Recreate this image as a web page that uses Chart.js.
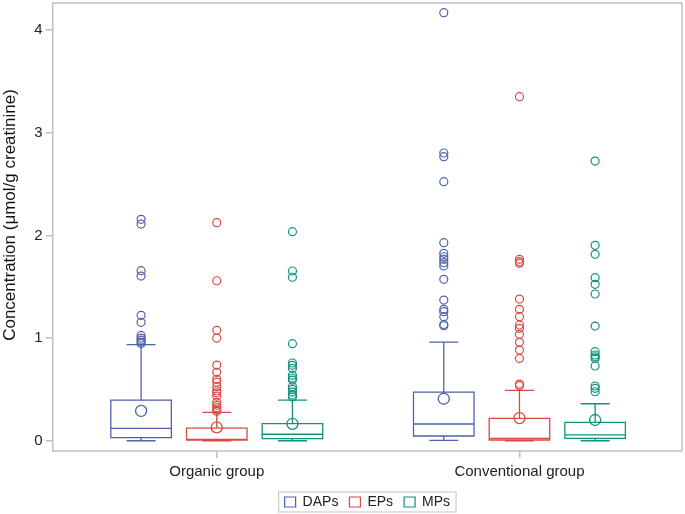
<!DOCTYPE html>
<html>
<head>
<meta charset="utf-8">
<script src="https://cdn.jsdelivr.net/npm/chart.js@4/dist/chart.umd.min.js"></script>
<style>
html,body{margin:0;padding:0;background:#fff;}
#wrap{width:685px;height:514px;}
</style>
</head>
<body>
<div id="wrap"><canvas id="c" width="685" height="514"></canvas></div>
<script>
// ---- data ----
const groups = ["Organic group", "Conventional group"];
const seriesNames = ["DAPs", "EPs", "MPs"];
const yTicks = [0, 1, 2, 3, 4];
const yTitle = "Concentration (μmol/g creatinine)";

// box statistics, indexed [series][group]
const whiskerLow  = [[0.0, 0.004], [0.0, 0.0], [0.0, 0.0]];
const q1          = [[0.03, 0.046], [0.005, 0.007], [0.02, 0.023]];
const median      = [[0.12, 0.163], [0.012, 0.023], [0.063, 0.058]];
const q3          = [[0.396, 0.474], [0.122, 0.218], [0.166, 0.179]];
const whiskerHigh = [[0.935, 0.961], [0.276, 0.491], [0.396, 0.36]];
const mean        = [[0.29, 0.409], [0.13, 0.221], [0.165, 0.202]];

// outliers
const dapsOutOrganic = [2.156, 2.11, 1.656, 1.604, 1.221, 1.153, 1.026, 1.0, 0.98, 0.961, 0.948];
const dapsOutConv    = [4.169, 2.802, 2.766, 2.523, 1.929, 1.825, 1.792, 1.767, 1.734, 1.702, 1.572, 1.37, 1.28, 1.257, 1.208, 1.133, 1.12];
const epsOutOrganic  = [2.124, 1.558, 1.075, 1.0, 0.737, 0.666, 0.598, 0.57, 0.526, 0.487, 0.467, 0.435, 0.374, 0.345, 0.322, 0.299, 0.286];
const epsOutConv     = [3.351, 1.767, 1.744, 1.728, 1.38, 1.28, 1.208, 1.127, 1.095, 1.036, 0.958, 0.883, 0.802, 0.552, 0.536];
const mpsOutOrganic  = [2.036, 1.653, 1.592, 0.945, 0.757, 0.734, 0.705, 0.637, 0.611, 0.591, 0.526, 0.5, 0.474, 0.445, 0.426];
const mpsOutConv     = [2.724, 1.903, 1.815, 1.588, 1.523, 1.429, 1.117, 0.867, 0.835, 0.818, 0.802, 0.728, 0.533, 0.51, 0.477];

const outliers = [[dapsOutOrganic, dapsOutConv], [epsOutOrganic, epsOutConv], [mpsOutOrganic, mpsOutConv]];

// ---- styling ----
const colors = ["#4f62ae", "#d64c42", "#14907f"];
const offsets = [-0.25, 0, 0.25];
const boxHalf = 0.1;
const capHalf = 0.048;
const frameColor = "#bcc0c3";
const FONT = "'Liberation Sans', Arial, sans-serif";

const datasets = [];
seriesNames.forEach((name, si) => {
  const pts = [];
  groups.forEach((g, gi) => {
    outliers[si][gi].forEach(v => pts.push({x: gi + 1 + offsets[si], y: v}));
  });
  datasets.push({
    label: name, data: pts, borderColor: colors[si], backgroundColor: 'rgba(0,0,0,0)',
    borderWidth: 1.2, pointRadius: 4, pointHoverRadius: 4, showLine: false
  });
});
seriesNames.forEach((name, si) => {
  datasets.push({
    label: name + ' mean', data: groups.map((g, gi) => ({x: gi + 1 + offsets[si], y: mean[si][gi]})),
    borderColor: colors[si], backgroundColor: 'rgba(0,0,0,0)', borderWidth: 1.3,
    pointRadius: 5.5, pointHoverRadius: 5.5, showLine: false
  });
});

const boxPlugin = {
  id: 'boxes',
  beforeDatasetsDraw(chart) {
    const {ctx, scales: {x, y}} = chart;
    ctx.save();
    ctx.lineWidth = 1.3;
    seriesNames.forEach((s, si) => {
      groups.forEach((g, gi) => {
        const c = gi + 1 + offsets[si];
        const xl = x.getPixelForValue(c - boxHalf), xr = x.getPixelForValue(c + boxHalf);
        const xc = x.getPixelForValue(c);
        const cl = x.getPixelForValue(c - capHalf), cr = x.getPixelForValue(c + capHalf);
        const yLo = y.getPixelForValue(whiskerLow[si][gi]);
        const yQ1 = y.getPixelForValue(q1[si][gi]);
        const yMed = y.getPixelForValue(median[si][gi]);
        const yQ3 = y.getPixelForValue(q3[si][gi]);
        const yHi = y.getPixelForValue(whiskerHigh[si][gi]);
        ctx.strokeStyle = colors[si];
        ctx.beginPath();
        ctx.rect(xl, yQ3, xr - xl, yQ1 - yQ3);
        ctx.moveTo(xl, yMed); ctx.lineTo(xr, yMed);
        ctx.moveTo(xc, yQ3); ctx.lineTo(xc, yHi);
        ctx.moveTo(cl, yHi); ctx.lineTo(cr, yHi);
        ctx.moveTo(xc, yQ1); ctx.lineTo(xc, yLo);
        ctx.moveTo(cl, yLo); ctx.lineTo(cr, yLo);
        ctx.stroke();
      });
    });
    // frame
    const a = chart.chartArea;
    ctx.strokeStyle = frameColor;
    ctx.lineWidth = 1.5;
    ctx.strokeRect(a.left, a.top, a.right - a.left, a.bottom - a.top);
    ctx.restore();
  },
  afterDraw(chart) {
    const ctx = chart.ctx;
    const a = chart.chartArea;
    // y-axis title
    ctx.save();
    ctx.translate(10, (a.top + a.bottom) / 2 - 12);
    ctx.rotate(-Math.PI / 2);
    ctx.fillStyle = '#111';
    ctx.font = "17px " + FONT;
    ctx.textAlign = 'center';
    ctx.textBaseline = 'middle';
    ctx.fillText(yTitle, 0, 0);
    ctx.restore();
    // legend frame
    const lg = chart.legend;
    if (!lg || !lg.legendHitBoxes || !lg.legendHitBoxes.length) return;
    const hb = lg.legendHitBoxes;
    const left = Math.min(...hb.map(h => h.left)) - 6;
    const right = Math.max(...hb.map(h => h.left + h.width)) + 6;
    const top = Math.min(...hb.map(h => h.top)) - 3;
    const bottom = Math.max(...hb.map(h => h.top + h.height)) + 3;
    ctx.save();
    ctx.strokeStyle = "#c8cbce";
    ctx.lineWidth = 1.2;
    ctx.strokeRect(left, top, right - left, bottom - top);
    ctx.restore();
  }
};

new Chart(document.getElementById('c'), {
  type: 'scatter',
  data: {datasets},
  plugins: [boxPlugin],
  options: {
    responsive: false,
    animation: false,
    layout: {autoPadding: false, padding: {top: 3, right: 3, left: 0, bottom: 0}},
    plugins: {
      tooltip: {enabled: false},
      legend: {
        position: 'bottom',
        fullSize: false,
        maxHeight: 30,
        labels: {
          filter: item => seriesNames.includes(item.text),
          boxWidth: 11, boxHeight: 10, padding: 11,
          color: '#222', font: {family: FONT, size: 14}
        }
      }
    },
    scales: {
      x: {
        type: 'linear', min: 0.458, max: 2.537,
        afterBuildTicks: s => { s.ticks = groups.map((g, i) => ({value: i + 1})); },
        afterFit: s => { s.height = 33; s.paddingLeft = 0; s.paddingRight = 0; },
        ticks: {
          callback: v => groups[Math.round(v) - 1] || '',
          color: '#222', font: {family: FONT, size: 15}, padding: 5, maxRotation: 0, autoSkip: false
        },
        grid: {drawOnChartArea: false, drawTicks: true, tickLength: 7, color: frameColor, lineWidth: 1.5},
        border: {display: false}
      },
      y: {
        type: 'linear', min: -0.1, max: 4.263,
        afterBuildTicks: s => { s.ticks = yTicks.map(v => ({value: v})); },
        afterFit: s => { s.width = 52.7; s.paddingTop = 0; s.paddingBottom = 0; },
        ticks: {color: '#222', font: {family: FONT, size: 15}, padding: 3},
        grid: {drawOnChartArea: false, drawTicks: true, tickLength: 7, color: frameColor, lineWidth: 1.5},
        border: {display: false}
      }
    }
  }
});
</script>
</body>
</html>
